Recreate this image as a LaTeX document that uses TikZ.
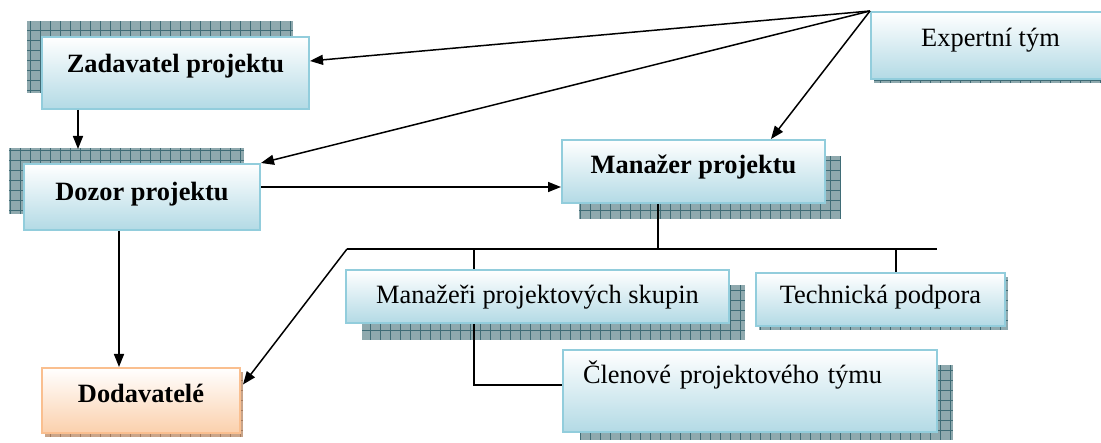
\documentclass[tikz,border=0pt]{standalone}
\usepackage{fontspec}
\setmainfont{Liberation Serif}
\usetikzlibrary{calc,arrows.meta}
\definecolor{bbord}{HTML}{92CDDC}
\definecolor{bfill}{HTML}{B3DAE5}
\definecolor{obord}{HTML}{FABF8F}
\definecolor{ofill}{HTML}{FBD0AC}
\definecolor{shfill}{HTML}{8FA9AE}
\definecolor{shline}{HTML}{3F6C76}
\definecolor{oshfill}{HTML}{C9A58A}
\definecolor{oshline}{HTML}{A47A5C}
\newcommand\shbox[6]{%
  \begin{scope}
    \clip (#1,#2) rectangle (#3,#4);
    \fill[#5] (#1,#2) rectangle (#3,#4);
    \draw[#6, line width=0.8pt, step=10pt] (#1,#2) grid (#3,#4);
  \end{scope}}
\tikzset{
  box/.style={draw=bbord, line width=2pt, top color=white, bottom color=bfill,
    font=\fontsize{26.4}{30}\selectfont, inner sep=0pt, minimum width=#1},
  obox/.style={box=#1, draw=obord, bottom color=ofill},
  tb/.style 2 args={text height=#1pt, text depth=#2pt},
  ln/.style={line width=1.5pt, black},
  arr/.style={ln, -{Triangle[length=13pt,width=10pt]}}
}
\begin{document}
\begin{tikzpicture}[x=1pt,y=-1pt]
\useasboundingbox (0,0) rectangle (1101,443);
\clip (0,0) rectangle (1101,443);
% shadows
\shbox{27}{21}{293}{93}{shfill}{shline}
\shbox{9}{148}{244}{214}{shfill}{shline}
\shbox{579}{156}{841}{219}{shfill}{shline}
\shbox{874}{16}{1107}{83}{shfill}{shline}
\shbox{45}{372}{243}{437}{oshfill}{oshline}
\shbox{362}{285}{745}{340}{shfill}{shline}
\shbox{759}{277}{1008}{330}{shfill}{shline}
\shbox{580}{365}{953}{440}{shfill}{shline}
% boxes
\node[box=267pt, minimum height=72pt, tb={10}{10}] (zad) at (175.5,73) {\textbf{Zadavatel projektu}};
\node[box=236pt, minimum height=66pt, tb={12}{4}] (doz) at (142,197) {\textbf{Dozor projektu}};
\node[box=263pt, minimum height=63pt, tb={10}{5}] (man) at (693.5,171.5) {\textbf{Manažer projektu}};
\node[box=233pt, minimum height=67pt, tb={8}{5}, xshift=0pt] (exp) at (987.5,45.5) {\hspace*{6pt}Expertní tým};
\node[obox=198pt, minimum height=65pt, tb={10}{5}] (dod) at (141,400.5) {\textbf{Dodavatelé}};
\node[box=383pt, minimum height=53pt, tb={15}{0}] (mgr) at (537.5,296.5) {Manažeři projektových skupin};
\node[box=249pt, minimum height=53pt, tb={12}{3}] (tech) at (880.5,299.5) {Technická podpora};
\node[box=374pt, minimum height=82pt, tb={0}{14}, text width=334pt, align=left, inner xsep=20pt] (cle) at (750,391) {Členové projektového týmu};
% connectors
\draw[arr] ($(zad.south)+(-97.5,0)$) -- ($(doz.north)+(-64,-14)$);
\draw[arr] ($(doz.south)+(-23,0)$) -- ($(dod.north)+(-22,0)$);
\draw[arr] ($(doz.east)+(0,-10)$) -- ($(man.west)+(0,15.5)$);
\draw[arr] (exp.north west) -- ($(zad.east)+(0,-12)$);
\draw[arr] (exp.north west) -- (doz.north east);
\draw[arr] (exp.north west) -- ($(man.north)+(77.5,0)$);
\coordinate (busL) at (347,249);
\coordinate (busR) at (937,249);
\coordinate (manS) at ($(man.south)+(-35.5,0)$);
\coordinate (mgrT) at ($(mgr.north)+(-63.5,0)$);
\coordinate (mgrB) at ($(mgr.south)+(-63.5,0)$);
\coordinate (techT) at ($(tech.north)+(15.5,0)$);
\draw[ln] (manS) -- (manS |- busL);
\draw[ln] (busL) -- (busR);
\draw[arr] (busL) -- ($(dod.east)+(2,-16)$);
\draw[ln] (mgrT |- busL) -- (mgrT);
\draw[ln] (techT |- busL) -- (techT);
\draw[ln] (mgrB) |- ($(cle.west)+(0,-6)$);
\end{tikzpicture}
\end{document}
